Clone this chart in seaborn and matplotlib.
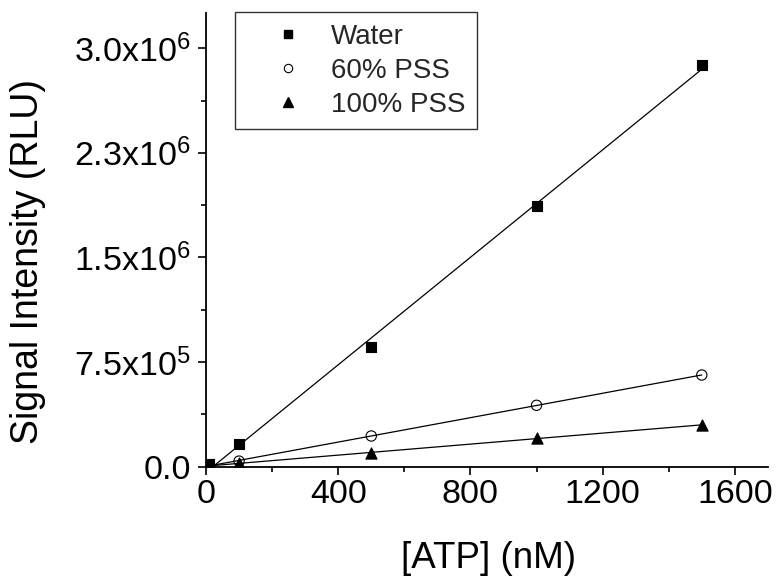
import numpy as np
import pandas as pd
import matplotlib
matplotlib.use("Agg")
import matplotlib.pyplot as plt
from matplotlib.lines import Line2D
from matplotlib.ticker import MultipleLocator, FixedLocator
import seaborn as sns

# ATP concentration (nM) and luminescence signal (RLU)
atp_nM = [10, 100, 500, 1000, 1500]
water = [2.0e4, 1.6e5, 8.6e5, 1.87e6, 2.88e6]
pss_60 = [1.0e4, 4.0e4, 2.2e5, 4.4e5, 6.57e5]
pss_100 = [0.8e4, 2.5e4, 9.6e4, 2.04e5, 3.0e5]

series_names = ["Water", "60% PSS", "100% PSS"]
y_ticks = [0, 7.5e5, 1.5e6, 2.25e6, 3.0e6]
y_tick_labels = ["0.0", r"7.5x10$\mathregular{^5}$", r"1.5x10$\mathregular{^6}$",
                 r"2.3x10$\mathregular{^6}$", r"3.0x10$\mathregular{^6}$"]
x_ticks = [0, 400, 800, 1200, 1600]

sns.set_theme(style="ticks")
plt.rcParams["font.family"] = ["Liberation Sans", "DejaVu Sans"]
plt.rcParams["mathtext.fontset"] = "custom"
plt.rcParams["mathtext.rm"] = "Liberation Sans"

df = pd.DataFrame({"atp": atp_nM, "Water": water,
                   "60% PSS": pss_60, "100% PSS": pss_100})

fig = plt.figure(figsize=(7.78, 5.79), dpi=100)
ax = fig.add_axes([0.2648, 0.194, 0.7222, 0.783])

styles = {
    "Water": dict(marker="s", facecolor="black", s=50),
    "60% PSS": dict(marker="o", facecolor="none", s=55),
    "100% PSS": dict(marker="^", facecolor="black", s=65),
}

for name in series_names:
    st = styles[name]
    sns.regplot(data=df, x="atp", y=name, ax=ax, ci=None, truncate=True,
                marker=st["marker"],
                scatter_kws=dict(s=st["s"], facecolors=st["facecolor"],
                                 edgecolors="black", linewidths=0.8,
                                 color="black", alpha=1, zorder=3),
                line_kws=dict(color="black", lw=0.9, zorder=2))

ax.set_xlim(0, 1700)
ax.set_ylim(0, 3.25e6)
ax.xaxis.set_major_locator(FixedLocator(x_ticks))
ax.xaxis.set_minor_locator(MultipleLocator(200))
ax.yaxis.set_major_locator(FixedLocator(y_ticks))
ax.yaxis.set_minor_locator(FixedLocator([3.75e5, 1.125e6, 1.875e6, 2.625e6]))
ax.set_yticklabels(y_tick_labels)

ax.tick_params(axis="both", which="major", direction="out", length=6,
               width=1.2, labelsize=24.5, color="black", labelcolor="black")
ax.tick_params(axis="y", which="major", pad=5)
ax.tick_params(axis="x", which="major", pad=3)
ax.tick_params(axis="both", which="minor", direction="out", length=3.3,
               width=1.2, color="black")
for side in ("top", "right"):
    ax.spines[side].set_visible(False)
for side in ("left", "bottom"):
    ax.spines[side].set_linewidth(1.3)
    ax.spines[side].set_color("black")

ax.set_xlabel("[ATP] (nM)", fontsize=26.5, color="black")
ax.set_ylabel("Signal Intensity (RLU)", fontsize=27, color="black")
ax.xaxis.set_label_coords(0.502, -0.163)
ax.yaxis.set_label_coords(-0.285, 0.452)

handles = [
    Line2D([], [], ls="none", marker="s", markersize=6, markerfacecolor="black",
           markeredgecolor="black"),
    Line2D([], [], ls="none", marker="o", markersize=6, markerfacecolor="none",
           markeredgecolor="black", markeredgewidth=0.8),
    Line2D([], [], ls="none", marker="^", markersize=7, markerfacecolor="black",
           markeredgecolor="black"),
]
leg = ax.legend(handles, series_names, loc="upper left",
                bbox_to_anchor=(0.052, 1.002), fontsize=20, frameon=True,
                fancybox=False, edgecolor="black", handlelength=3.0,
                handletextpad=0.05, borderpad=0.4, labelspacing=0.3,
                borderaxespad=0.0)
leg.get_frame().set_linewidth(1.0)

fig.savefig("out.png", dpi=100)
